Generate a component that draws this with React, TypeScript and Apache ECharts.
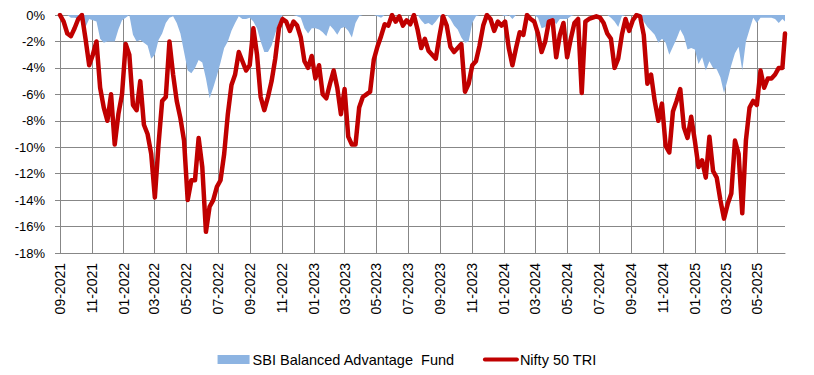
import React, { useEffect, useRef } from "react";
import * as echarts from "echarts";

// Date range of the weekly observations (axis runs daily so month grid lines fall on the 1st)
const startDay = "2021-09-01";
const endDay = "2025-06-23";
const stepDays = 7;

const fundName = "SBI Balanced Advantage  Fund";
const niftyName = "Nifty 50 TRI";

// Weekly drawdown (%)
const fundDrawdown = [
  0, 0, 0, -0.2, -0.2, -0.3, -0.5, -0.9, -0.3, -0.4,
  -0.5, -1.8, -2.1, -2.0, -2.0, -2.0, -1.1, -0.4, -0.2, 0,
  -1.5, -2.0, -1.9, -2.1, -2.3, -3.3, -3.0, -1.9, -1.4, -0.6,
  -0.2, -0.1, -0.6, -1.4, -2.8, -4.2, -4.4, -4.0, -3.4, -3.6,
  -4.8, -6.3, -5.5, -4.6, -3.6, -2.5, -2.0, -1.2, -0.6, -0.1,
  -0.3, -0.3, -0.2, -0.5, -1.0, -2.0, -2.8, -2.8, -2.3, -1.4,
  -0.6, 0, 0, 0, 0, -0.1, -0.2, -1.0, -1.4, -1.0,
  -1.0, -1.1, -1.3, -1.6, -0.8, -1.1, -1.5, -1.0, -0.9, -1.2,
  -1.7, -0.6, -0.1, 0, 0, 0, 0, -0.1, -0.2, 0,
  0, 0, 0, 0, 0, 0, 0, 0, 0, -0.4,
  -0.7, -0.6, -0.8, -0.5, -0.1, 0, 0, -0.3, -0.8, -1.1,
  -1.7, -2.1, -2.0, -0.6, -0.1, 0, 0, 0, 0, 0,
  0, 0, -0.1, 0, -0.3, 0, 0, 0, 0, 0,
  0, -0.2, -1.0, -0.9, -0.4, -0.3, -0.7, -0.3, -0.3, -0.3,
  -0.1, 0, 0, 0, 0, 0, 0, 0, 0, 0,
  0, -0.2, -0.5, -0.9, -0.1, 0, 0, 0, 0, 0,
  -0.5, -0.9, -1.2, -1.5, -2.1, -1.8, -2.1, -3.0, -2.4, -1.8,
  -1.1, -1.6, -2.6, -2.5, -2.6, -3.7, -3.2, -4.2, -3.5, -4.0,
  -4.1, -4.7, -5.9, -4.9, -3.8, -2.9, -2.4, -4.2, -2.0, -1.1,
  -0.2, -0.6, -0.2, -0.2, -0.2, -0.2, -0.3, -0.6, -0.3, -0.5,
];

const niftyDrawdown = [
  0, -0.5, -1.4, -1.6, -1.0, -0.3, 0, -1.8, -3.8, -3.0,
  -2.0, -5.5, -7.0, -8.0, -6.0, -9.8, -7.5, -6.0, -2.2, -3.0,
  -6.8, -7.2, -5.0, -8.3, -9.0, -10.5, -13.8, -9.8, -6.5, -6.2,
  -2.0, -4.5, -6.5, -7.8, -9.5, -14.0, -12.5, -12.5, -9.3, -11.5,
  -16.4, -14.5, -14.0, -13.0, -12.5, -10.5, -7.5, -5.3, -4.5, -2.8,
  -3.5, -4.2, -3.8, -1.0, -3.0, -6.2, -7.2, -6.2, -5.0, -3.3,
  -1.0, -0.3, -0.5, -1.2, -0.5, -0.8, -1.7, -3.5, -4.0, -3.1,
  -4.8, -3.8, -6.0, -6.3, -5.2, -4.2, -5.5, -7.5, -5.6, -9.2,
  -9.8, -9.8, -7.0, -6.2, -6.0, -5.8, -3.4, -2.4, -1.6, -0.7,
  -0.8, 0, -0.5, -0.1, -0.8, -0.4, -0.7, 0, -1.1, -2.5,
  -1.8, -2.7, -3.0, -3.3, -1.6, -0.1, -0.8, -2.4, -2.8, -2.5,
  -2.2, -5.8, -5.2, -3.8, -3.5, -2.3, -0.8, 0, -0.3, -1.2,
  -0.5, -0.8, -0.5, -2.5, -3.8, -2.5, -1.3, -1.5, 0, -0.3,
  -0.5, -1.4, -2.8, -2.0, -0.5, -0.4, -3.2, -1.5, -0.6, -3.2,
  -1.8, -0.6, -0.3, -5.9, -0.5, -0.3, -0.2, -0.1, -0.2, -0.6,
  -1.4, -1.8, -4.0, -3.3, -1.5, -0.3, -1.2, -0.4, 0, -0.1,
  -1.5, -5.2, -4.5, -6.5, -8.0, -6.7, -9.9, -10.4, -7.3, -6.5,
  -5.6, -8.5, -9.3, -7.7, -9.5, -11.5, -11.0, -12.3, -9.2, -11.8,
  -12.3, -14.0, -15.4, -14.3, -13.5, -9.5, -10.5, -15.0, -9.5, -7.0,
  -6.5, -6.8, -4.2, -5.5, -4.8, -4.8, -4.5, -4.0, -4.0, -1.4,
];

const yMin = -18;
const yMax = 0;
const yStep = 2;

function dayList(start: string, end: string): string[] {
  const out: string[] = [];
  let t = Date.parse(start + "T00:00:00Z");
  const e = Date.parse(end + "T00:00:00Z");
  while (t <= e) {
    out.push(new Date(t).toISOString().slice(0, 10));
    t += 86400000;
  }
  return out;
}

const days = dayList(startDay, endDay);
const pointDates = fundDrawdown.map((_, i) => days[Math.min(i * stepDays, days.length - 1)]);

const isLabelDay = (value: string) =>
  value.slice(8) === "01" && Number(value.slice(5, 7)) % 2 === 1;

const GRID = "#878787";
const FONT = "'Liberation Sans', Arial, sans-serif";

export default function App() {
  const ref = useRef<HTMLDivElement>(null);
  useEffect(() => {
    if (!ref.current) return;
    const chart = echarts.init(ref.current, null, { renderer: "svg" });
    chart.setOption({
      animation: false,
      grid: { left: 60, right: 29, top: 15, bottom: 122, containLabel: false },
      legend: {
        left: "center",
        top: 347,
        itemWidth: 32,
        itemHeight: 9,
        itemGap: 28,
        textStyle: { fontSize: 14.5, fontFamily: FONT, color: "#000", padding: [0, 0, 0, -2] },
        data: [
          { name: fundName, icon: "rect" },
          { name: niftyName, itemStyle: { opacity: 0 }, lineStyle: { width: 4, color: "#C00000" } },
        ],
      },
      xAxis: {
        type: "category",
        data: days,
        boundaryGap: false,
        axisLine: { show: true, onZero: false, lineStyle: { color: GRID, width: 1 } },
        axisTick: { show: false },
        axisLabel: {
          interval: (_i: number, v: string) => isLabelDay(v),
          rotate: 90,
          margin: 10,
          fontSize: 14,
          fontFamily: FONT,
          color: "#000",
          formatter: (v: string) => v.slice(5, 7) + "-" + v.slice(0, 4),
        },
        splitLine: {
          show: true,
          interval: (_i: number, v: string) => isLabelDay(v),
          lineStyle: { color: GRID, width: 1 },
        },
      },
      yAxis: {
        type: "value",
        min: yMin,
        max: yMax,
        interval: yStep,
        axisLine: { show: true, lineStyle: { color: GRID, width: 1 } },
        axisTick: { show: true, length: 5, lineStyle: { color: GRID } },
        axisLabel: {
          formatter: "{value}%",
          fontSize: 13,
          fontFamily: FONT,
          color: "#000",
          margin: 15,
        },
        splitLine: { show: true, lineStyle: { color: GRID, width: 1 } },
      },
      series: [
        {
          name: fundName,
          type: "line",
          color: "#8DB4E2",
          symbol: "none",
          data: pointDates.map((d, i) => [d, fundDrawdown[i]]),
          lineStyle: { width: 0, opacity: 0 },
          areaStyle: { color: "#8DB4E2", opacity: 1 },
          z: 2,
        },
        {
          name: niftyName,
          type: "line",
          color: "#C00000",
          symbol: "none",
          data: pointDates.map((d, i) => [d, niftyDrawdown[i]]),
          lineStyle: { width: 4.5, color: "#C00000", join: "round", cap: "round" },
          z: 3,
        },
      ],
    });
    return () => chart.dispose();
  }, []);
  return (
    <div
      ref={ref}
      style={{ position: "fixed", left: 0, top: 0, width: 814, height: 375, background: "#fff" }}
    />
  );
}
